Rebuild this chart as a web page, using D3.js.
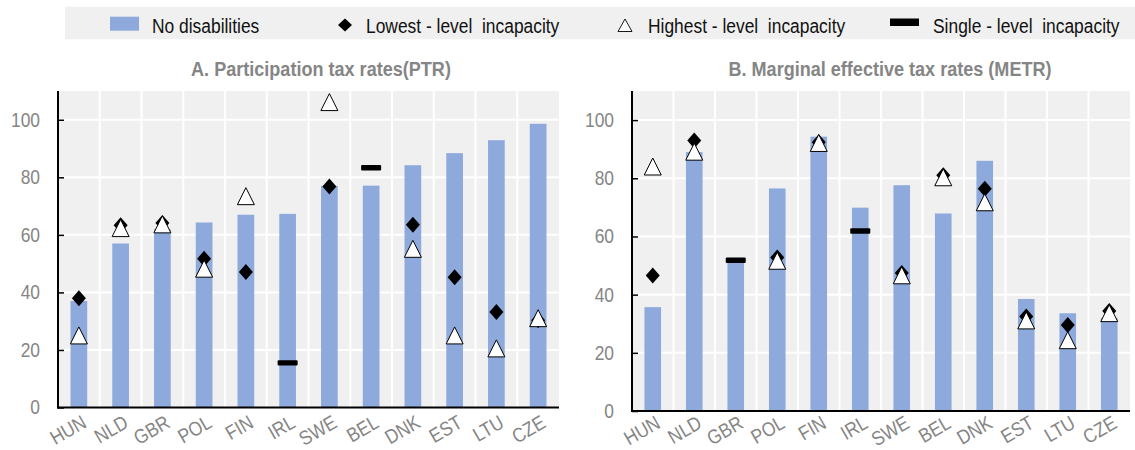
<!DOCTYPE html>
<html>
<head>
<meta charset="utf-8">
<script src="https://cdn.jsdelivr.net/npm/d3@7"></script>
<style>
  html, body { margin: 0; padding: 0; background: #fff; }
  svg { display: block; }
  text { font-family: "Liberation Sans", Arial, sans-serif; }
</style>
</head>
<body>
<svg id="chart" width="1135" height="450"></svg>
<script>
// Countries, in the order shown on both panels
const countries = ["HUN", "NLD", "GBR", "POL", "FIN", "IRL", "SWE", "BEL", "DNK", "EST", "LTU", "CZE"];

// A. Participation tax rates (PTR), %
const ptrNoDisabilities = [37, 57, 62, 64.3, 67, 67.3, 77, 77.1, 84.2, 88.4, 92.9, 98.6];
const ptrLowest  = [38, 63.3, 64.1, 51.7, 47.1, null, 76.8, null, 63.5, 45.3, 33.2, 30.3];
const ptrHighest = [24.7, 62, 63.3, 47.9, 73.1, null, 105.8, null, 54.8, 24.7, 20.2, 30.7];
const ptrSingle  = [null, null, null, null, null, 15.5, null, 83.3, null, null, null, null];

// B. Marginal effective tax rates (METR), %
const metrNoDisabilities = [35.7, 89, 51.5, 76.5, 94.3, 69.9, 77.6, 67.9, 86, 38.5, 33.6, 32];
const metrLowest  = [46.6, 93, null, 52.8, 92.4, null, 47.4, 81, 76.4, 32.5, 29.6, 34.4];
const metrHighest = [83.7, 88.8, null, 51.3, 91.8, null, 46.3, 80, 71.4, 30.8, 24, 33.3];
const metrSingle  = [null, null, 51.8, null, null, 61.9, null, null, null, null, null, null];

const yTicks = [0, 20, 40, 60, 80, 100];
const legendLabels = ["No disabilities", "Lowest - level  incapacity", "Highest - level  incapacity", "Single - level  incapacity"];
const titles = ["A. Participation tax rates(PTR)", "B. Marginal effective tax rates (METR)"];

const BAR = "#8EAADC";
const PANEL_BG = "#F0F0F0";
const GREY = "#858585";
const NARROW = 0.87;   // horizontal squeeze giving a condensed face

const svg = d3.select("#chart");

const diamondPath = "M0,-8L7,0L0,8L-7,0Z";
const trianglePath = "M0,-9.5L8.5,7.5L-8.5,7.5Z";

// ---- Legend ----
const legend = svg.append("g");
legend.append("rect").attr("x", 65).attr("y", 6.7).attr("width", 1070).attr("height", 32.6).attr("fill", PANEL_BG);
legend.append("rect").attr("x", 110).attr("y", 16.7).attr("width", 29).attr("height", 14).attr("fill", BAR);
legend.append("path").attr("d", "M0,-6.5L7,0L0,6.5L-7,0Z").attr("transform", "translate(345,25)").attr("fill", "#000");
legend.append("path").attr("d", "M0,-6.5L7,6L-7,6Z").attr("transform", "translate(625,25.5)")
  .attr("fill", "#fff").attr("stroke", "#000").attr("stroke-width", 0.9);
legend.append("rect").attr("x", 890).attr("y", 18.5).attr("width", 29).attr("height", 7.5).attr("fill", "#000");
const legendX = [152, 366, 648, 933];
legend.selectAll("text.leg").data(legendLabels).join("text")
  .attr("class", "leg")
  .attr("transform", (d, i) => `translate(${legendX[i]},32.5) scale(${NARROW},1)`)
  .attr("font-size", 20).attr("fill", "#111")
  .style("white-space", "pre")
  .text(d => d);

// ---- Panels ----
function drawPanel(cfg) {
  const { left, right, top, bottom, noDis, lowest, highest, single, title, titleX, labelDy } = cfg;
  const g = svg.append("g");

  const x = d3.scaleBand().domain(countries).range([left, right]).paddingInner(0.6).paddingOuter(0.3);
  const y = d3.scaleLinear().domain([0, 110]).range([bottom, top]);
  const step = x.step();

  // Plot background
  g.append("rect").attr("x", left).attr("y", top).attr("width", right - left).attr("height", bottom - top).attr("fill", PANEL_BG);

  // Horizontal grid
  g.selectAll("line.hg").data(yTicks.filter(t => t > 0)).join("line")
    .attr("x1", left).attr("x2", right)
    .attr("y1", d => y(d)).attr("y2", d => y(d))
    .attr("stroke", "#fff").attr("stroke-width", 2);

  // Vertical grid between categories
  g.selectAll("line.vg").data(countries.slice(1)).join("line")
    .attr("x1", d => x(d) - step * 0.3).attr("x2", d => x(d) - step * 0.3)
    .attr("y1", top).attr("y2", bottom)
    .attr("stroke", "#fff").attr("stroke-width", 2);

  // Bars
  g.selectAll("rect.bar").data(countries).join("rect")
    .attr("x", d => x(d)).attr("width", x.bandwidth())
    .attr("y", (d, i) => y(noDis[i])).attr("height", (d, i) => y(0) - y(noDis[i]))
    .attr("fill", BAR);

  const cx = d => x(d) + x.bandwidth() / 2;

  // Single-level incapacity dashes
  const singles = countries.map((c, i) => ({ c, v: single[i] })).filter(d => d.v != null);
  g.selectAll("rect.single").data(singles).join("rect")
    .attr("x", d => cx(d.c) - 10).attr("y", d => y(d.v) - 2.7)
    .attr("width", 20).attr("height", 5.4).attr("rx", 1).attr("fill", "#000");

  // Lowest-level incapacity diamonds
  const lows = countries.map((c, i) => ({ c, v: lowest[i] })).filter(d => d.v != null);
  g.selectAll("path.low").data(lows).join("path")
    .attr("d", diamondPath)
    .attr("transform", d => `translate(${cx(d.c)},${y(d.v)})`)
    .attr("fill", "#000");

  // Highest-level incapacity triangles
  const highs = countries.map((c, i) => ({ c, v: highest[i] })).filter(d => d.v != null);
  g.selectAll("path.high").data(highs).join("path")
    .attr("d", trianglePath)
    .attr("transform", d => `translate(${cx(d.c)},${y(d.v)})`)
    .attr("fill", "#fff").attr("stroke", "#000").attr("stroke-width", 1);

  // Y axis
  const yAxis = d3.axisLeft(y).tickValues(yTicks).tickSize(-6).tickPadding(18).tickFormat(d3.format("d"));
  const ya = g.append("g").attr("transform", `translate(${left},0)`).call(yAxis);
  ya.select(".domain").remove();
  ya.selectAll(".tick line").attr("stroke", "#000").attr("stroke-width", 1.5);
  ya.selectAll(".tick text").attr("font-size", 20).attr("fill", GREY)
    .attr("font-family", null)
    .attr("x", 0).attr("transform", `translate(-18,0) scale(${NARROW},1)`);

  // X axis labels
  const xAxis = d3.axisBottom(x).tickSize(0).tickPadding(0);
  const xa = g.append("g").attr("transform", `translate(0,${bottom})`).call(xAxis);
  xa.select(".domain").remove();
  xa.selectAll(".tick text")
    .attr("font-size", 20).attr("fill", GREY).attr("font-family", null)
    .attr("text-anchor", "end").attr("dy", 0).attr("y", 0)
    .attr("transform", `translate(9,${labelDy}) rotate(-30) scale(${NARROW},1)`);

  // Axis lines
  g.append("line").attr("x1", left).attr("x2", left).attr("y1", top).attr("y2", bottom + 1)
    .attr("stroke", "#000").attr("stroke-width", 2);
  g.append("line").attr("x1", left - 1).attr("x2", right).attr("y1", bottom).attr("y2", bottom)
    .attr("stroke", "#000").attr("stroke-width", 2);

  // Panel title
  svg.append("text").attr("text-anchor", "middle")
    .attr("transform", `translate(${titleX},76) scale(0.86,1)`)
    .attr("font-size", 21).attr("font-weight", "bold").attr("fill", GREY)
    .text(title);
}

drawPanel({ left: 58, right: 559, top: 91, bottom: 407.5,
  noDis: ptrNoDisabilities, lowest: ptrLowest, highest: ptrHighest, single: ptrSingle,
  title: titles[0], titleX: 321, labelDy: 19 });
drawPanel({ left: 632, right: 1130, top: 91, bottom: 411,
  noDis: metrNoDisabilities, lowest: metrLowest, highest: metrHighest, single: metrSingle,
  title: titles[1], titleX: 890, labelDy: 16 });
</script>
</body>
</html>
